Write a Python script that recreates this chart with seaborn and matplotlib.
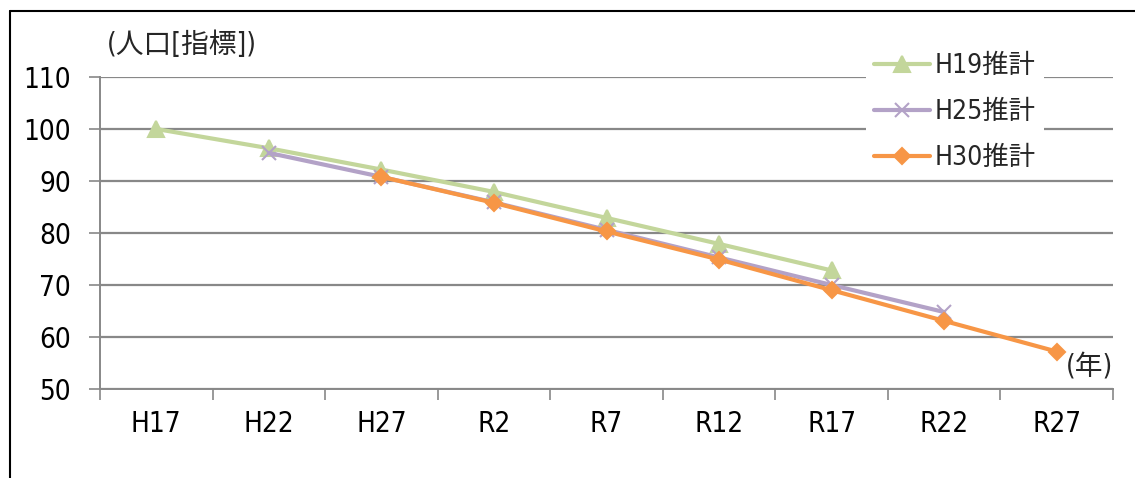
import matplotlib
matplotlib.use("Agg")
import matplotlib.pyplot as plt
from matplotlib.lines import Line2D
from matplotlib.ticker import FixedLocator, NullFormatter
import numpy as np
import pandas as pd
import seaborn as sns

# Categories (survey years) and projected population index for each estimate
years = ["H17", "H22", "H27", "R2", "R7", "R12", "R17", "R22", "R27"]
h19 = [100.0, 96.3, 92.2, 87.9, 82.9, 77.9, 72.8, np.nan, np.nan]
h25 = [np.nan, 95.4, 90.8, 85.9, 80.6, 75.3, 70.0, 64.8, np.nan]
h30 = [np.nan, np.nan, 90.8, 85.8, 80.3, 74.9, 69.0, 63.1, 57.2]
series_names = ["H19推計", "H25推計", "H30推計"]
y_ticks = [50, 60, 70, 80, 90, 100, 110]

sns.set_theme(style="white")
plt.rcParams["font.family"] = ["DejaVu Sans", "Noto Sans CJK JP"]
plt.rcParams["font.stretch"] = "condensed"

rows = []
for name, vals in zip(series_names, [h19, h25, h30]):
    for i, v in enumerate(vals):
        if not np.isnan(v):
            rows.append({"idx": i, "value": v, "series": name})
df = pd.DataFrame(rows)

W, H = 1135, 478
fig = plt.figure(figsize=(W / 100, H / 100), dpi=100)
ax = fig.add_axes([100 / W, 1 - 389 / H, (1113 - 100) / W, (389 - 77) / H])

palette = {"H19推計": "#C3D69B", "H25推計": "#B3A2C7", "H30推計": "#F79646"}
markers = {"H19推計": "^", "H25推計": "x", "H30推計": "D"}
sizes = {"H19推計": 11, "H25推計": 10, "H30推計": 8}

for name in series_names:
    sub = df[df["series"] == name]
    sns.lineplot(data=sub, x="idx", y="value", ax=ax, color=palette[name],
                 marker=markers[name], markersize=sizes[name],
                 markeredgecolor=palette[name], markeredgewidth=1.5,
                 linewidth=3, label=name, sort=False, estimator=None)

FS = 20
ax.set_xlim(-0.5, len(years) - 0.5)
ax.set_ylim(50, 110)
ax.set_yticks(y_ticks)
ax.set_xticks(range(len(years)))
ax.set_xticklabels(years)
ax.xaxis.set_minor_locator(FixedLocator(np.arange(-0.5, len(years), 1.0)))
ax.xaxis.set_minor_formatter(NullFormatter())
ax.tick_params(axis="x", which="major", length=0, pad=15, labelsize=FS, colors="black")
ax.tick_params(axis="x", which="minor", length=8, width=1.2, color="#888888", bottom=True)
ax.tick_params(axis="y", which="major", length=8, width=1.2, color="#888888",
               left=True, labelsize=FS, labelcolor="black", pad=13)
ax.set_xlabel("")
ax.set_ylabel("")

ax.grid(axis="y", color="#888888", linewidth=1.6)
ax.set_axisbelow(True)
for s in ["top", "right"]:
    ax.spines[s].set_visible(False)
for s in ["left", "bottom"]:
    ax.spines[s].set_color("#888888")
    ax.spines[s].set_linewidth(1.4)

ax.text(7 / 1013, 1 + 32 / 312, "(人口[指標])", transform=ax.transAxes, fontsize=FS,
        ha="left", va="center")
ax.text(1.0, 22 / 312, "(年)", transform=ax.transAxes, fontsize=FS,
        ha="right", va="center")

leg = ax.legend(loc="upper left", bbox_to_anchor=(753 / 1013, 1 + 45 / 312), frameon=True,
                fontsize=19, handlelength=2.1, handletextpad=0.2,
                labelspacing=0.76, borderpad=0.3)
leg.get_frame().set_facecolor("white")
leg.get_frame().set_edgecolor("none")
leg.get_frame().set_alpha(1)

# Outer border of the chart area
fig.add_artist(Line2D([10 / W, 10 / W], [0, 1 - 11 / H], color="black", linewidth=1.5,
                      transform=fig.transFigure))
fig.add_artist(Line2D([10 / W, 1], [1 - 11 / H, 1 - 11 / H], color="black", linewidth=1.5,
                      transform=fig.transFigure))

fig.savefig("out.png", dpi=100, facecolor="white")
